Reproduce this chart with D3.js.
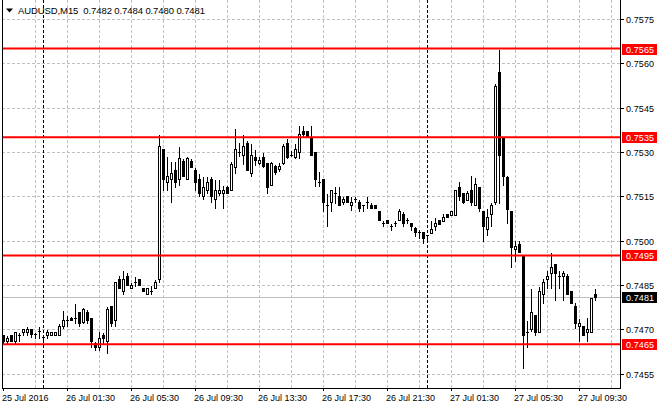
<!DOCTYPE html>
<html><head><meta charset="utf-8">
<script src="https://cdn.jsdelivr.net/npm/d3@7"></script>
<style>
html,body{margin:0;padding:0;background:#fff;}
svg{display:block;}
text{font-family:"Liberation Sans",Arial,sans-serif;font-size:9px;}
</style>
</head><body>
<svg id="c" width="660" height="410"></svg>
<script>
const symbol = "AUDUSD,M15";
const opens = [
0.7468,0.7466,0.7468,0.7466,0.7468,0.7469,0.7469,0.7470,0.74685,0.74695,
0.74675,0.7468,0.7468,0.7468,0.7468,0.7471,0.7473,0.7474,0.7474,0.7476,
0.74725,0.7476,0.7474,0.74655,0.7464,0.7468,0.7466,0.7478,0.7473,0.7487,
0.7483,0.7488,0.7484,0.7486,0.7487,0.7484,0.7482,0.7483,0.7484,0.7487,
0.7531,0.7520,0.7521,0.7524,0.7521,0.7527,0.7521,0.7527,0.7524,0.7521,
0.7515,0.7517,0.7521,0.7514,0.7516,0.7516,0.7518,0.7517,0.7525,0.7530,
0.7529,0.7533,0.7523,0.75283,0.75263,0.75283,0.75263,0.7519,0.75254,0.75243,
0.75263,0.7533,0.7529,0.75283,0.7530,0.7537,0.7537,0.7535,0.7530,0.7520,
0.7521,0.7512,0.7513,0.7516,0.7515,0.7513,0.7515,0.7512,0.7514,0.7513,
0.7512,0.7513,0.7512,0.7512,0.7510,0.7506,0.7507,0.7505,0.7506,0.7507,
0.7509,0.7507,0.7506,0.75042,0.7503,0.7503,0.7502,0.75027,0.75048,0.7507,
0.75068,0.7509,0.75088,0.75088,0.75183,0.7516,0.75138,0.75172,0.7512,0.75183,
0.7510,0.7504,0.7509,0.7513,0.7557,0.7535,0.75214,0.75102,0.74971,0.7499,
0.7495,0.7469,0.7470,0.7475,0.7469,0.7482,0.7487,0.7489,0.7492,0.7488,
0.7488,0.7488,0.7483,0.7478,0.7471,0.74712,0.7469,0.7469,0.7482];
const highs = [
0.74685,0.7468,0.74685,0.74695,0.7469,0.74705,0.7471,0.74705,0.7469,0.7471,
0.74685,0.7470,0.74695,0.7469,0.7472,0.74765,0.7475,0.74745,0.7479,0.7476,
0.74775,0.7477,0.7474,0.7466,0.74695,0.7469,0.7478,0.7478,0.7486,0.74885,
0.7490,0.74895,0.7486,0.7488,0.7487,0.7484,0.7484,0.7485,0.7487,0.7536,
0.7531,0.75285,0.7527,0.7527,0.7532,0.7528,0.75285,0.7528,0.7525,0.7523,
0.7522,0.7522,0.7522,0.7521,0.7521,0.7519,0.7519,0.7527,0.7538,0.75335,
0.7536,0.7534,0.7533,0.7531,0.75285,0.7530,0.75265,0.7527,0.7526,0.75265,
0.7533,0.75347,0.75308,0.7533,0.7539,0.7539,0.75375,0.7539,0.7530,0.75235,
0.7521,0.7516,0.75173,0.75184,0.75184,0.7515,0.75152,0.7515,0.7515,0.7514,
0.7512,0.7515,0.7513,0.7512,0.7510,0.7507,0.7507,0.7506,0.7507,0.7511,
0.7510,0.7508,0.7506,0.7505,0.7504,0.7503,0.7502,0.7507,0.7508,0.7507,
0.75093,0.7509,0.7510,0.75172,0.75203,0.7516,0.75172,0.75222,0.75217,0.75183,
0.7510,0.7511,0.75132,0.75532,0.7565,0.7535,0.75222,0.75102,0.75002,0.75002,
0.7495,0.7473,0.7484,0.7475,0.74845,0.74873,0.7490,0.74963,0.7492,0.7490,
0.7490,0.7489,0.7483,0.74794,0.7474,0.74712,0.74743,0.74807,0.7484];
const lows = [
0.74655,0.74655,0.7466,0.74655,0.7466,0.7468,0.7468,0.74675,0.7467,0.7467,
0.74665,0.7467,0.7468,0.7468,0.7468,0.74705,0.7471,0.7473,0.7472,0.7471,
0.7472,0.7472,0.7464,0.7463,0.7463,0.7465,0.7462,0.7471,0.7471,0.7484,
0.7482,0.7485,0.7484,0.74845,0.7485,0.7483,0.7482,0.7482,0.7484,0.7486,
0.7517,0.7517,0.7513,0.7518,0.7519,0.7522,0.7521,0.7525,0.7517,0.7515,
0.7514,0.7516,0.7513,0.7511,0.75155,0.7511,0.7516,0.7517,0.7523,0.75285,
0.7526,0.7524,0.7522,0.75257,0.7526,0.7525,0.7516,0.7519,0.75225,0.75235,
0.7526,0.7528,0.75285,0.7528,0.7528,0.75355,0.7535,0.7529,0.75184,0.75184,
0.7510,0.7505,0.7510,0.75127,0.7512,0.75125,0.7513,0.75105,0.7513,0.7510,
0.7510,0.7511,0.7511,0.7511,0.7507,0.7505,0.7506,0.75037,0.7505,0.7507,
0.7505,0.7506,0.75037,0.75015,0.7501,0.74992,0.7500,0.75025,0.75036,0.75057,
0.75068,0.75079,0.75088,0.75088,0.75138,0.75129,0.75138,0.7512,0.7512,0.7510,
0.7500,0.7502,0.75048,0.75125,0.75126,0.7519,0.7506,0.7491,0.7493,0.7496,
0.7457,0.7464,0.74695,0.7468,0.7469,0.7479,0.7484,0.7484,0.7480,0.7484,
0.7480,0.74818,0.74788,0.74704,0.7466,0.7468,0.7466,0.7469,0.7480];
const closes = [
0.7466,0.7467,0.7466,0.7469,0.7468,0.7470,0.7470,0.74685,0.74685,0.74695,
0.74675,0.7469,0.7469,0.7469,0.7471,0.7473,0.7473,0.7473,0.7474,0.7472,
0.7477,0.7473,0.7466,0.7464,0.7467,0.7467,0.7477,0.7472,0.7486,0.7484,
0.7487,0.7485,0.7485,0.7486,0.7485,0.7483,0.7484,0.7483,0.7486,0.7532,
0.7521,0.7522,0.7523,0.7520,0.7528,0.7522,0.7528,0.7525,0.7520,0.7516,
0.7518,0.7520,0.7515,0.7517,0.7517,0.7517,0.7516,0.7526,0.7531,0.7530,
0.7532,0.7524,0.7529,0.75272,0.75272,0.75252,0.7518,0.75263,0.75231,0.75254,
0.7532,0.75283,0.7529,0.7531,0.7536,0.7536,0.7535,0.7529,0.7521,0.7520,
0.7513,0.7512,0.7517,0.7516,0.7512,0.7514,0.7513,0.7513,0.7514,0.7511,
0.7512,0.7513,0.7511,0.7511,0.7507,0.7506,0.7506,0.7505,0.7506,0.7510,
0.7506,0.7507,0.7505,0.75028,0.7503,0.7501,0.7502,0.7504,0.7506,0.75057,
0.7508,0.7508,0.7510,0.75172,0.7515,0.7513,0.7516,0.7513,0.75192,0.7511,
0.75048,0.7508,0.7512,0.75523,0.7529,0.7522,0.75107,0.7498,0.74982,0.7496,
0.7468,0.7469,0.7476,0.7469,0.7483,0.7486,0.7488,0.7491,0.7489,0.7488,
0.7489,0.7482,0.7479,0.7472,0.7472,0.7468,0.7470,0.74807,0.7481];
const priceTicks = [0.7575,0.7560,0.7545,0.7530,0.7515,0.7500,0.7485,0.7470,0.7455];
const levels = [0.7565,0.7535,0.7495,0.7465];
const currentPrice = 0.7481;
const timeTickIndex = [0,16,32,48,64,80,96,112,128,144];
const timeTickLabels = ["25 Jul 2016","26 Jul 01:30","26 Jul 05:30","26 Jul 09:30","26 Jul 13:30","26 Jul 17:30","26 Jul 21:30","27 Jul 01:30","27 Jul 05:30","27 Jul 09:30"];
const daySeparators = [10,106];
const gridIndex = d3.range(8,153,8);

const svg = d3.select("#c");
const L = 2, R = 620, B = 388;
const x = d3.scaleLinear().domain([0,148]).range([3,595]);
const y = d3.scaleLinear().domain([0.7455,0.7560]).range([373.7,63.3]);
const px = i => Math.round(x(i)) + 0.5;
const py = v => Math.round(y(v)) + 0.5;
const fmt = d3.format(".4f");

svg.append("rect").attr("width",660).attr("height",410).attr("fill","#fff");

// grid
const g = svg.append("g").attr("stroke","#c0c0c0").attr("stroke-width",1).attr("stroke-dasharray","3,2").attr("shape-rendering","crispEdges");
g.selectAll(".hg").data(priceTicks).join("line")
  .attr("x1",L).attr("x2",R).attr("y1",d=>py(d)).attr("y2",d=>py(d));
g.selectAll(".vg").data(gridIndex).join("line")
  .attr("x1",d=>px(d)).attr("x2",d=>px(d)).attr("y1",0).attr("y2",B);

// current price line
svg.append("line").attr("x1",L).attr("x2",R).attr("y1",py(currentPrice)).attr("y2",py(currentPrice))
  .attr("stroke","#c0c0c0").attr("shape-rendering","crispEdges");

// day separators
svg.selectAll(".ds").data(daySeparators).join("line")
  .attr("x1",d=>px(d)).attr("x2",d=>px(d)).attr("y1",0).attr("y2",B)
  .attr("stroke","#000").attr("stroke-dasharray","3,2").attr("shape-rendering","crispEdges");

// candles
const bars = opens.map((o,i)=>({i,o,h:highs[i],l:lows[i],c:closes[i]}));
const cg = svg.append("g").attr("shape-rendering","crispEdges");
bars.forEach(d=>{
  const cx = px(d.i);
  cg.append("line").attr("x1",cx).attr("x2",cx).attr("y1",py(d.h)).attr("y2",py(d.l)+0.5).attr("stroke","#000");
  const t = py(Math.max(d.o,d.c)), b = py(Math.min(d.o,d.c));
  if (b - t < 1) {
    cg.append("line").attr("x1",cx-1.5).attr("x2",cx+1.5).attr("y1",t).attr("y2",t).attr("stroke","#000");
  } else {
    cg.append("rect").attr("x",cx-1).attr("width",2).attr("y",t).attr("height",b-t)
      .attr("fill", d.c>=d.o ? "#fff" : "#000").attr("stroke","#000");
  }
});

// level lines
svg.selectAll(".lv").data(levels).join("line")
  .attr("x1",L).attr("x2",R).attr("y1",d=>y(d)).attr("y2",d=>y(d))
  .attr("stroke","#ff0000").attr("stroke-width",2);

// frame
svg.append("path").attr("d",`M${L+0.5},0V${B+0.5}H${R+0.5}V0`).attr("fill","none").attr("stroke","#000").attr("shape-rendering","crispEdges");

// right axis ticks & labels
svg.selectAll(".pt").data(priceTicks).join("line")
  .attr("x1",R+0.5).attr("x2",R+4).attr("y1",d=>py(d)).attr("y2",d=>py(d)).attr("stroke","#000").attr("shape-rendering","crispEdges");
svg.selectAll(".pl").data(priceTicks).join("text")
  .attr("x",626).attr("y",d=>py(d)).attr("dy","0.35em").attr("fill","#000")
  .attr("textLength",28).attr("lengthAdjust","spacing").text(d=>fmt(d));

function tag(v, col){
  const yy = Math.round(y(v));
  svg.append("rect").attr("x",622).attr("y",yy-5).attr("width",35).attr("height",11).attr("fill",col);
  svg.append("text").attr("x",626).attr("y",yy+0.5).attr("dy","0.35em").attr("fill","#fff")
    .attr("textLength",28).attr("lengthAdjust","spacing").text(fmt(v));
}
levels.forEach(v=>tag(v,"#ff0000"));
tag(currentPrice,"#000");

// bottom axis
svg.selectAll(".tt").data(timeTickIndex).join("line")
  .attr("x1",d=>px(d)).attr("x2",d=>px(d)).attr("y1",B).attr("y2",B+3).attr("stroke","#000").attr("shape-rendering","crispEdges");
svg.selectAll(".tl").data(timeTickIndex).join("text")
  .attr("x",d=>Math.round(x(d))-1).attr("y",401).attr("fill","#000")
  .text((d,i)=>timeTickLabels[i]);

// title
const n = opens.length-1;
svg.append("path").attr("d","M6,8.5L13,8.5L9.5,12.5Z").attr("fill","#000");
svg.append("text").attr("x",18).attr("y",14).attr("fill","#000")
  .attr("xml:space","preserve").style("white-space","pre").style("font-size","9.5px")
  .attr("textLength",187).attr("lengthAdjust","spacing")
  .text(`${symbol}  ${fmt(opens[n])} ${fmt(highs[n])} ${fmt(lows[n])} ${fmt(closes[n])}`);
</script>
</body></html>
